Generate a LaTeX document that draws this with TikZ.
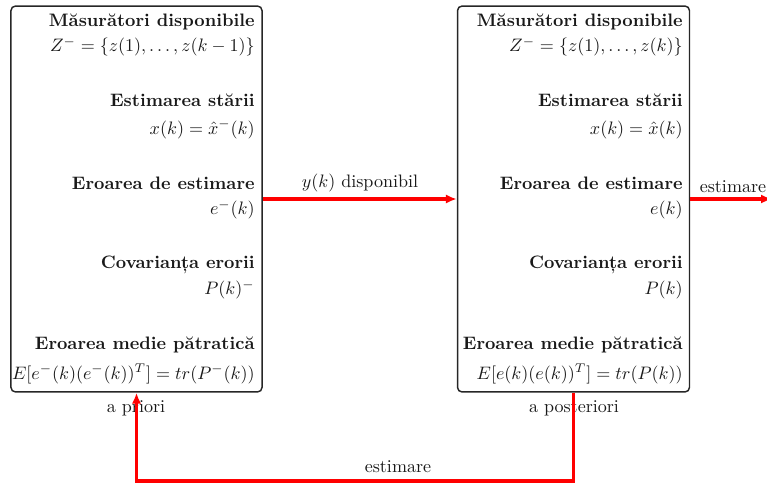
\documentclass[tikz,border=0pt]{standalone}
\usepackage{fontspec}
\usetikzlibrary{arrows.meta,calc}
\tikzset{
  box/.style={draw=black!85, line width=0.8pt, rounded corners=2.5pt, minimum height=213.8pt, inner sep=0pt},
  ttl/.style={anchor=east, inner sep=0pt, font=\bfseries, text=black!90},
  mth/.style={anchor=east, inner sep=0pt, text=black!90},
  lbl/.style={inner sep=0pt, text=black!90},
  redarr/.style={draw=red, line width=1.7pt, -{Latex[length=6pt,width=5pt]}}
}
\begin{document}
\begin{tikzpicture}[x=0.554pt,y=-0.554pt]
\useasboundingbox (0,0) rectangle (767,486);
% boxes
\node[box, minimum width=139.1pt] (L) at (136.5,199) {};
\node[box, minimum width=128.5pt] (R) at (573.5,199) {};
% left texts
\node[ttl] (l1) at (255,22) {Măsurători disponibile};
\node[mth] (l2) at (255,47) {$Z^{-}=\{z(1),\dots,z(k-1)\}$};
\node[ttl] (l3) at (255,100) {Estimarea stării};
\node[mth] (l4) at (255,129.5) {$x(k)=\hat{x}^{-}(k)$};
\node[ttl] (l5) at (255,183) {Eroarea de estimare};
\node[mth] (l6) at (255,210) {$e^{-}(k)$};
\node[ttl] (l7) at (255,265) {Covarianța erorii};
\node[mth] (l8) at (255,290) {$P(k)^{-}$};
\node[ttl] (l9) at (255,345) {Eroarea medie pătratică};
\node[mth] (l10) at (255,374) {$E[e^{-}(k)(e^{-}(k))^{T}]=tr(P^{-}(k))$};
% right texts
\node[ttl] (r1) at (683,22) {Măsurători disponibile};
\node[mth] (r2) at (683,47) {$Z^{-}=\{z(1),\dots,z(k)\}$};
\node[ttl] (r3) at (683,100) {Estimarea stării};
\node[mth] (r4) at (683,129.5) {$x(k)=\hat{x}(k)$};
\node[ttl] (r5) at (683,183) {Eroarea de estimare};
\node[mth] (r6) at (683,210) {$e(k)$};
\node[ttl] (r7) at (683,265) {Covarianța erorii};
\node[mth] (r8) at (683,290) {$P(k)$};
\node[ttl] (r9) at (683,345) {Eroarea medie pătratică};
\node[mth] (r10) at (683,374) {$E[e(k)(e(k))^{T}]=tr(P(k))$};
% labels
\node[lbl] (ap) at (136,408) {a priori};
\node[lbl] (aps) at (574,408) {a posteriori};
\node[lbl] (yk) at (360,183) {$y(k)$ disponibil};
\node[lbl] (est1) at (733,187) {estimare};
\node[lbl] (est2) at (398,467) {estimare};
% connectors
\coordinate (out) at (772,199);
\coordinate (fb) at (0,481);
\draw[redarr] (L.east) -- (R.west);
\draw[redarr] (R.east) -- (out);
\draw[redarr] (R.south) -- (R.south |- fb) -- (L.south |- fb) -- (L.south);
\end{tikzpicture}
\end{document}
